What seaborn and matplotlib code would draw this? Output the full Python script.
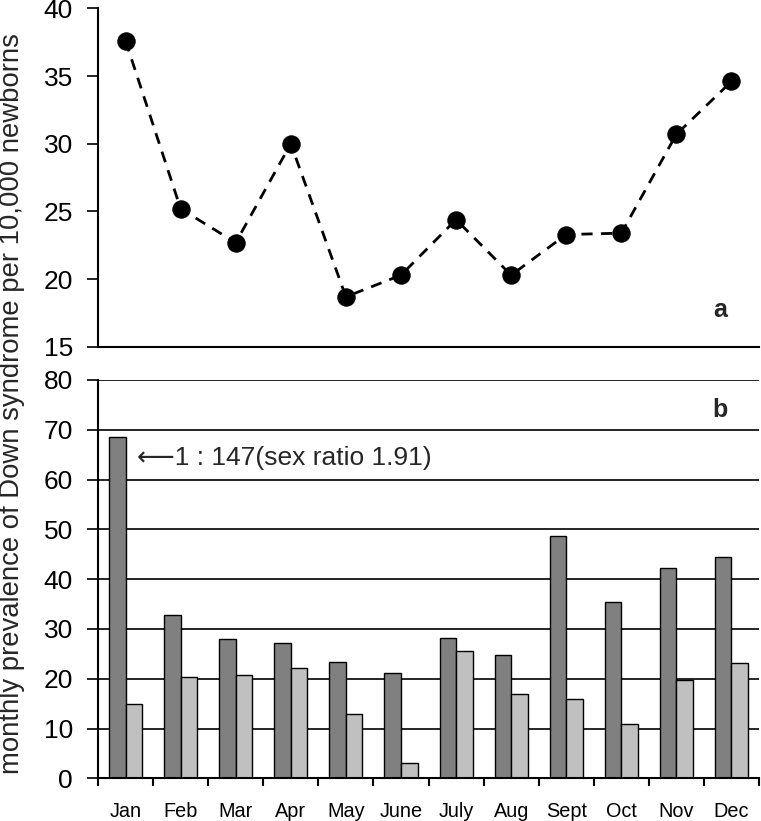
import numpy as np
import pandas as pd
import matplotlib
matplotlib.use("Agg")
import matplotlib.pyplot as plt
import seaborn as sns

# --- data ---
months = ["Jan", "Feb", "Mar", "Apr", "May", "June",
          "July", "Aug", "Sept", "Oct", "Nov", "Dec"]
prevalence = [37.6, 25.2, 22.7, 30.0, 18.7, 20.3,
              24.4, 20.3, 23.3, 23.4, 30.7, 34.6]
group_dark = [68.6, 32.8, 27.9, 27.2, 23.4, 21.1,
              28.2, 24.7, 48.7, 35.4, 42.2, 44.4]
group_light = [14.9, 20.4, 20.8, 22.1, 12.9, 3.1,
               25.6, 16.9, 15.9, 11.0, 19.8, 23.1]
top_ticks = [15, 20, 25, 30, 35, 40]
bottom_ticks = [0, 10, 20, 30, 40, 50, 60, 70, 80]

line_df = pd.DataFrame({"month": months, "value": prevalence})
bar_df = pd.DataFrame({
    "month": months * 2,
    "value": group_dark + group_light,
    "group": ["dark"] * len(months) + ["light"] * len(months),
})

sns.set_theme(style="white")
plt.rcParams["font.family"] = ["Liberation Sans", "DejaVu Sans"]

fig = plt.figure(figsize=(7.61, 8.21), dpi=100)
ax1 = fig.add_axes([0.1288, 0.5774, 0.8686, 0.4125])
ax2 = fig.add_axes([0.1288, 0.0520, 0.8686, 0.4852])

# --- panel a: line ---
sns.lineplot(data=line_df, x="month", y="value", ax=ax1, color="black",
             linestyle=(0, (4, 3)), linewidth=2, marker="o", markersize=12.5,
             markeredgecolor="black", sort=False)
ax1.set_xlim(-0.5, 11.5)
ax1.set_ylim(15, 40)
ax1.set_yticks(top_ticks)
ax1.set_xticks([])
ax1.set_xlabel("")
ax1.set_ylabel("")
for s in ["top", "right"]:
    ax1.spines[s].set_visible(False)
for s in ["left", "bottom"]:
    ax1.spines[s].set_color("black")
    ax1.spines[s].set_linewidth(1.5)
ax1.tick_params(axis="y", left=True, direction="out", length=8, width=1.2,
                labelsize=19, colors="black", pad=10)
ax1.text(10.8, 17.7, "a", fontsize=18, fontweight="bold", ha="center", va="center")

# --- panel b: bars ---
sns.barplot(data=bar_df, x="month", y="value", hue="group", ax=ax2,
            palette=["#808080", "#c0c0c0"], width=0.6, edgecolor="black",
            linewidth=1, legend=False, saturation=1)
ax2.set_xlim(-0.5, 11.5)
ax2.set_ylim(0, 80)
ax2.set_yticks(bottom_ticks)
ax2.set_axisbelow(True)
ax2.yaxis.grid(True, color="black", linewidth=1.2)
ax2.set_xticks(np.arange(-0.5, 12, 1))
ax2.set_xticklabels([])
ax2.set_xticks(np.arange(len(months)), minor=True)
ax2.set_xticklabels(months, minor=True)
ax2.tick_params(axis="x", which="major", bottom=True, direction="out",
                length=6, width=1.5, colors="black")
ax2.tick_params(axis="x", which="minor", bottom=False, labelsize=14.3,
                pad=13, labelcolor="black")
ax2.tick_params(axis="y", left=True, direction="out", length=8, width=1.2,
                labelsize=19, colors="black", pad=10)
ax2.set_xlabel("")
ax2.set_ylabel("")
for s in ["top", "right"]:
    ax2.spines[s].set_visible(False)
for s in ["left", "bottom"]:
    ax2.spines[s].set_color("black")
    ax2.spines[s].set_linewidth(1.5)
ax2.text(10.8, 74, "b", fontsize=18, fontweight="bold", ha="center", va="center")
ax2.text(0.2, 64.3, "\u27f51 : 147(sex ratio 1.91)", fontsize=19,
         ha="left", va="center", family=["Liberation Sans", "DejaVu Sans"])

fig.text(0.016, 0.509, "monthly prevalence of Down syndrome per 10,000 newborns",
         rotation=90, ha="center", va="center", fontsize=19.8)

fig.savefig("out.png", dpi=100)
